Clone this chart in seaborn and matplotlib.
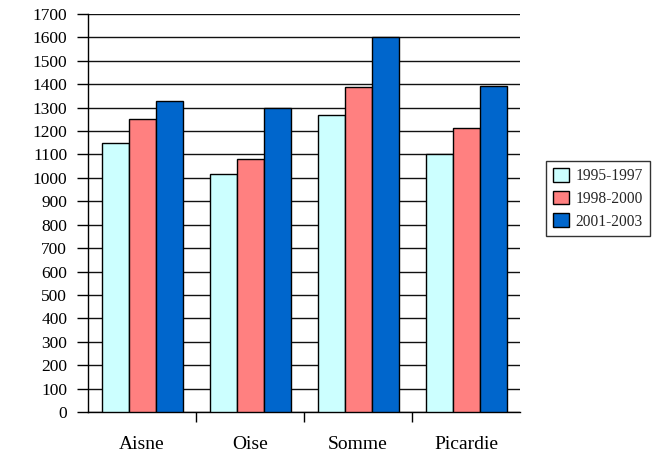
import matplotlib
matplotlib.use("Agg")
import matplotlib.pyplot as plt
import seaborn as sns
import pandas as pd
from matplotlib.ticker import FixedLocator, MultipleLocator

categories = ["Aisne", "Oise", "Somme", "Picardie"]
periods = ["1995-1997", "1998-2000", "2001-2003"]
v_1995_1997 = [1148, 1018, 1267, 1102]
v_1998_2000 = [1250, 1082, 1387, 1212]
v_2001_2003 = [1328, 1297, 1600, 1391]
colors = ["#CCFFFF", "#FF8080", "#0066CC"]

rows = []
for p, vals in zip(periods, [v_1995_1997, v_1998_2000, v_2001_2003]):
    for c, v in zip(categories, vals):
        rows.append({"cat": c, "period": p, "value": v})
df = pd.DataFrame(rows)

sns.set_theme(style="white")
plt.rcParams["font.family"] = ["Liberation Serif", "DejaVu Serif"]

fig = plt.figure(figsize=(6.66, 4.54), dpi=100)
L, R, B, T = 88, 520, 412, 14
ax = fig.add_axes([L/666, 1 - B/454, (R-L)/666, (B-T)/454])

sns.barplot(data=df, x="cat", y="value", hue="period", order=categories,
            hue_order=periods, palette=colors, edgecolor="black", linewidth=1,
            saturation=1, width=0.75, ax=ax, zorder=3, legend=True)

ax.set_ylim(0, 1700)
ax.set_xlim(-0.5, 3.5)
ax.yaxis.set_major_locator(MultipleLocator(100))
ax.yaxis.grid(True, color="#111111", linewidth=1, zorder=0)
ax.set_axisbelow(True)
for s in ["top", "right"]:
    ax.spines[s].set_visible(False)
for s in ["left", "bottom"]:
    ax.spines[s].set_color("black")
    ax.spines[s].set_linewidth(1)
ax.set_xlabel("")
ax.set_ylabel("")
ax.tick_params(axis="y", which="major", left=True, length=8, width=1, color="black",
               labelsize=12.5, labelcolor="black", pad=7)
ax.tick_params(axis="x", which="major", bottom=False, length=0, labelsize=14,
               labelcolor="black", pad=17.5)
ax.xaxis.set_minor_locator(FixedLocator([0.5, 1.5, 2.5]))
ax.tick_params(axis="x", which="minor", bottom=True, length=7.5, width=1, color="black")

leg = ax.legend(loc="center left", bbox_to_anchor=((546 - L) / (R - L), (B - 198.7) / (B - T)),
                frameon=True, fancybox=False, edgecolor="black", fontsize=11.2,
                handlelength=1.05, handleheight=1.0, handletextpad=0.45, borderpad=0.42,
                labelspacing=0.42, borderaxespad=0)
leg.get_frame().set_linewidth(1)

fig.savefig("out.png", dpi=100)
